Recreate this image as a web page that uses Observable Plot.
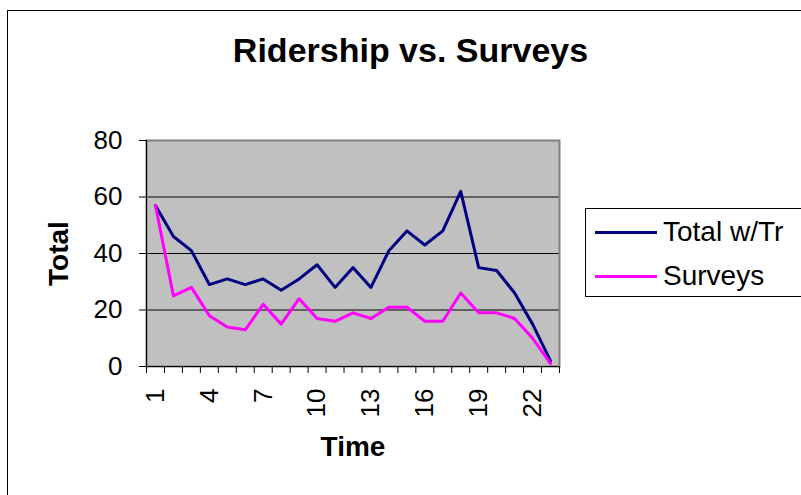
<!DOCTYPE html>
<html><head><meta charset="utf-8">
<script src="https://cdn.jsdelivr.net/npm/d3@7"></script>
<script src="https://cdn.jsdelivr.net/npm/@observablehq/plot@0.6"></script>
<style>
html,body{margin:0;padding:0;background:#fff;overflow:hidden}
#wrap{position:relative;width:801px;height:495px;overflow:hidden;font-family:"Liberation Sans",Arial,sans-serif;color:#000}
#border{position:absolute;left:7px;top:10px;width:840px;height:540px;border:1px solid #000;box-sizing:border-box}
#title{position:absolute;left:10px;width:801px;top:33px;text-align:center;font-weight:bold;font-size:34px;line-height:34px;white-space:nowrap}
#chart{position:absolute;left:0;top:0}
#legend{position:absolute;left:585px;top:208px;width:260px;height:89px;border:1px solid #000;box-sizing:border-box;background:#fff;padding-top:1px}
.row{height:44px;line-height:44px;font-size:28px;white-space:nowrap;display:flex;align-items:center}
.swatch{display:inline-block;width:62px;height:3px;margin-left:9px;margin-right:6px}
</style></head>
<body>
<div id="wrap">
  <div id="border"></div>
  <div id="chart"></div>
  <div id="title">Ridership vs. Surveys</div>
  <div id="legend"></div>
</div>
<script>
const time = [1,2,3,4,5,6,7,8,9,10,11,12,13,14,15,16,17,18,19,20,21,22,23];
const totalWTr = [57,46,41,29,31,29,31,27,31,36,28,35,28,41,48,43,48,62,35,34,26,15,2];
const surveys  = [57,25,28,18,14,13,22,15,24,17,16,19,17,21,21,16,16,26,19,19,17,10,1];
const xTickLabels = [1,4,7,10,13,16,19,22];
const yTicks = [0,20,40,60,80];
const seriesNames = ["Total w/Tr","Surveys"];
const seriesColors = ["#000080","#ff00ff"];
const fontFamily = '"Liberation Sans", Arial, sans-serif';

const rows = time.flatMap((t,i)=>[
  {time:t, value: totalWTr[i], series: seriesNames[0]},
  {time:t, value: surveys[i], series: seriesNames[1]}
]);
const xDomain = [time[0]-0.5, time[time.length-1]+0.5];
const boundaries = time.map(t=>t-0.5).concat([xDomain[1]]);

const chart = Plot.plot({
  width:801, height:495,
  marginLeft:146, marginRight:242, marginTop:140, marginBottom:129,
  x:{domain:xDomain, axis:null},
  y:{domain:[yTicks[0], yTicks[yTicks.length-1]], axis:null},
  color:{domain:seriesNames, range:seriesColors},
  style:{fontFamily, background:"transparent", color:"#000", overflow:"visible"},
  marks:[
    Plot.frame({fill:"#c0c0c0"}),
    Plot.ruleY(yTicks.slice(1,-1), {stroke:"#000", strokeWidth:1}),
    Plot.frame({stroke:"#808080", strokeWidth:2}),
    Plot.ruleY([yTicks[0]], {stroke:"#000", strokeWidth:1}),
    Plot.ruleX([xDomain[0]], {stroke:"#000", strokeWidth:1}),
    Plot.axisY({ticks:yTicks, tickSize:7, tickPadding:17, fontSize:26, label:null, stroke:"#000"}),
    Plot.axisX({ticks:boundaries, tickSize:7, tickFormat:()=>"", label:null, stroke:"#000"}),
    Plot.axisX({ticks:xTickLabels, tickSize:0, tickRotate:-90, tickPadding:22, fontSize:26, label:null}),
    Plot.line(rows, {x:"time", y:"value", stroke:"series", strokeWidth:3}),
    Plot.text(["Total"], {frameAnchor:"left", dx:-87, rotate:-90, textAnchor:"middle", lineAnchor:"middle", fontSize:28, fontWeight:"bold"}),
    Plot.text(["Time"], {frameAnchor:"bottom", dy:81, textAnchor:"middle", lineAnchor:"middle", fontSize:28, fontWeight:"bold"})
  ]
});
document.getElementById("chart").appendChild(chart);

const legend = document.getElementById("legend");
seriesNames.forEach((name,i)=>{
  const row = document.createElement("div");
  row.className = "row";
  const sw = document.createElement("span");
  sw.className = "swatch";
  sw.style.background = seriesColors[i];
  const label = document.createElement("span");
  label.textContent = name;
  row.appendChild(sw); row.appendChild(label);
  legend.appendChild(row);
});
</script>
</body></html>
